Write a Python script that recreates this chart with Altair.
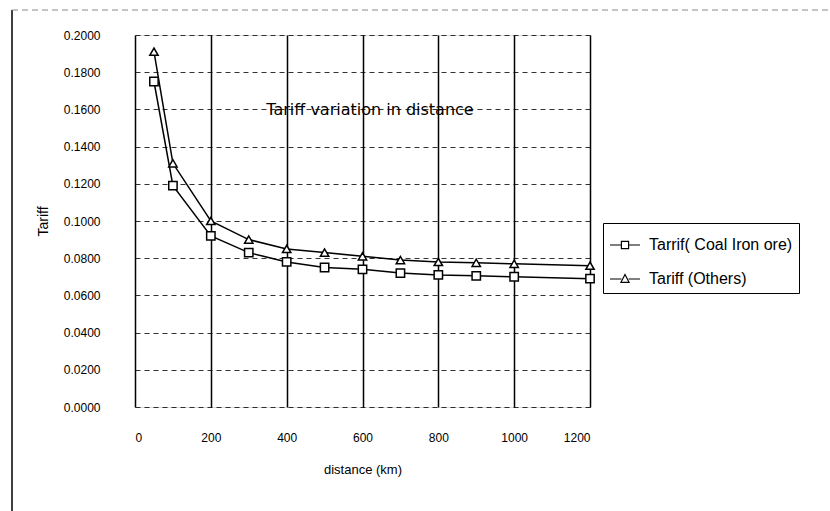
import altair as alt
import pandas as pd

distance = [50, 100, 200, 300, 400, 500, 600, 700, 800, 900, 1000, 1200]
tariff_coal = [0.175, 0.119, 0.092, 0.083, 0.078, 0.075, 0.074, 0.072, 0.071, 0.0705, 0.070, 0.069]
tariff_others = [0.191, 0.131, 0.100, 0.090, 0.085, 0.083, 0.081, 0.079, 0.078, 0.0775, 0.077, 0.076]
series_names = ["Tarrif( Coal Iron ore)", "Tariff (Others)"]
x_ticks = [0, 200, 400, 600, 800, 1000, 1200]
y_ticks = [0.0, 0.02, 0.04, 0.06, 0.08, 0.10, 0.12, 0.14, 0.16, 0.18, 0.20]
chart_title = "Tariff variation in distance"

rows = []
for d, c, o in zip(distance, tariff_coal, tariff_others):
    rows.append({"distance": d, "tariff": c, "series": series_names[0]})
    rows.append({"distance": d, "tariff": o, "series": series_names[1]})
df = pd.DataFrame(rows)

FONT = "Liberation Sans"

x_enc = alt.X("distance:Q", scale=alt.Scale(domain=[0, 1200], nice=False),
              axis=alt.Axis(values=x_ticks, format="d", title="distance (km)", grid=True,
                            gridColor="black", gridWidth=1.5, gridOpacity=1,
                            domain=False, ticks=False, labelPadding=25,
                            titlePadding=20, labelFontSize=12, titleFontSize=13,
                            labelFont=FONT, titleFont=FONT, labelColor="black",
                            titleColor="black", titleFontWeight="normal",
                            labelOverlap=False))
y_enc = alt.Y("tariff:Q", scale=alt.Scale(domain=[0, 0.2], nice=False),
              axis=alt.Axis(values=y_ticks, format=".4f", title="Tariff", grid=True,
                            gridColor="black", gridWidth=1, gridDash=[5, 4],
                            gridOpacity=0.8, domain=False, ticks=False,
                            labelPadding=35, titlePadding=13, labelFontSize=12,
                            titleFontSize=14, labelFont=FONT, titleFont=FONT,
                            labelColor="black", titleColor="black",
                            titleFontWeight="normal", labelOverlap=False))

base = alt.Chart(df).encode(x=x_enc, y=y_enc)

lines = base.mark_line(color="black", strokeWidth=1.5).encode(detail="series:N")

points = base.mark_point(filled=True, fill="white", stroke="black",
                         strokeWidth=1.5, size=70, opacity=1).encode(
    shape=alt.Shape("series:N", scale=alt.Scale(domain=series_names,
                                                range=["square", "triangle-up"]),
                    legend=None)
)

legend_paths = [
    "M-1,0H-0.24M0.24,0H1M-0.24,-0.24H0.24V0.24H-0.24Z",
    "M-1,0H-0.24M0.24,0H1M0,-0.3L0.27,0.22H-0.27Z",
]
# legend-only layer: its own marks are placed far off the canvas
legend_layer = alt.Chart(df).mark_point(filled=False, color="black",
                                        strokeWidth=1.2, opacity=1).encode(
    x=alt.value(-5000), y=alt.value(-5000),
    shape=alt.Shape("series:N",
                    scale=alt.Scale(domain=series_names, range=legend_paths),
                    legend=alt.Legend(title=None, orient="none", legendX=468,
                                      legendY=188, symbolSize=900,
                                      symbolStrokeColor="black",
                                      symbolStrokeWidth=1.2, labelFont=FONT,
                                      labelFontSize=16, labelColor="black",
                                      labelOffset=8, rowPadding=10,
                                      strokeColor="black", padding=6,
                                      labelLimit=200))
)

title_text = alt.Chart(alt.Data(values=[{"t": chart_title}])).mark_text(
    font="DejaVu Sans", fontSize=16, color="black", align="center", baseline="middle"
).encode(x=alt.value(235), y=alt.value(75), text="t:N")

frame = alt.Data(values=[{}])
left_frame = alt.Chart(frame).mark_rule(color="black", strokeWidth=1.5).encode(
    x=alt.value(-123), y=alt.value(-25), y2=alt.value(476)
)
top_frame = alt.Chart(frame).mark_rule(color="#888888", strokeWidth=1,
                                       strokeDash=[6, 4]).encode(
    x=alt.value(-123), x2=alt.value(695), y=alt.value(-25)
)

chart = alt.layer(lines, points, legend_layer, title_text, left_frame, top_frame).resolve_scale(
    shape="independent"
).properties(
    width=455, height=372,
    autosize=alt.AutoSizeParams(type="none"),
    padding={"left": 135, "top": 35, "right": 240, "bottom": 104},
).configure_view(stroke=None).configure(background="white")

chart.save("out.html", embed_options={"renderer": "svg", "actions": False})
